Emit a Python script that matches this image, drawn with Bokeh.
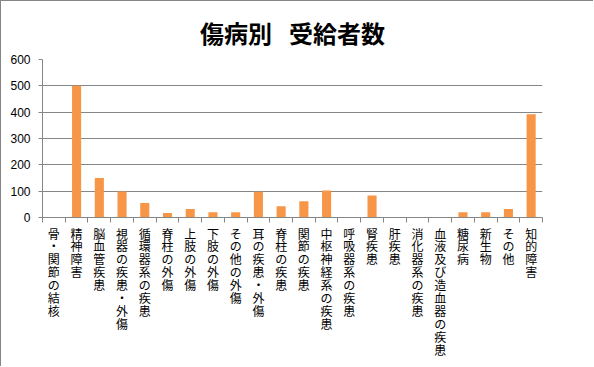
from bokeh.plotting import figure
from bokeh.models import ColumnDataSource, Range1d, LinearAxis, FixedTicker
from bokeh.embed import file_html
from bokeh.resources import INLINE

categories = ["骨・関節の結核", "精神障害", "脳血管疾患", "視器の疾患・外傷", "循環器系の疾患",
              "脊柱の外傷", "上肢の外傷", "下肢の外傷", "その他の外傷", "耳の疾患・外傷",
              "脊柱の疾患", "関節の疾患", "中枢神経系の疾患", "呼吸器系の疾患", "腎疾患",
              "肝疾患", "消化器系の疾患", "血液及び造血器の疾患", "糖尿病", "新生物",
              "その他", "知的障害"]
values = [0, 500, 150, 99, 55, 17, 32, 20, 20, 98, 43, 62, 103, 0, 84, 0, 0, 0, 20, 20, 32, 392]
y_ticks = [0, 100, 200, 300, 400, 500, 600]
title_text = "傷病別\u2002\u2009受給者数"

GRAY = "#868686"
JP = "Noto Sans CJK JP"

n = len(categories)
idx = list(range(n))
src = ColumnDataSource(dict(x=idx, val=values))

p = figure(width=593, height=366, output_backend="svg", toolbar_location=None,
           x_range=Range1d(-0.5, n - 0.5), y_range=Range1d(0, 600),
           x_axis_location=None, y_axis_location=None,
           min_border_left=41, min_border_right=52, min_border_top=58, min_border_bottom=150,
           title=title_text)
p.styles = {"border-left": "1px solid " + GRAY, "border-top": "1px solid " + GRAY}
p.outline_line_color = None
p.title.align = "center"
p.title.vertical_align = "top"
p.title.text_font = JP
p.title.text_font_size = "24px"
p.title.text_font_style = "bold"
p.title.text_color = "black"
p.title.text_line_height = 1.18
p.title.standoff = 16

p.vbar(x="x", top="val", width=0.4, source=src, fill_color="#F79646", line_color=None)

p.xgrid.visible = False
p.ygrid.ticker = FixedTicker(ticks=y_ticks)
p.ygrid.grid_line_color = GRAY
p.ygrid.grid_line_width = 1

yax = LinearAxis(ticker=FixedTicker(ticks=y_ticks))
yax.axis_line_color = GRAY
yax.major_tick_line_color = GRAY
yax.major_tick_in = 0
yax.major_tick_out = 4
yax.minor_tick_line_color = None
yax.major_label_text_font = "Liberation Sans"
yax.major_label_text_font_size = "12px"
yax.major_label_text_color = "black"
yax.major_label_standoff = 8
p.add_layout(yax, "left")

bounds = [i - 0.5 for i in range(n + 1)]
tax = LinearAxis(ticker=FixedTicker(ticks=bounds))
tax.axis_line_color = GRAY
tax.axis_line_width = 1
tax.major_tick_line_color = GRAY
tax.major_tick_line_width = 1
tax.major_tick_in = 0
tax.major_tick_out = 5
tax.minor_tick_line_color = None
tax.major_label_text_font_size = "1px"
tax.major_label_standoff = 0
tax.major_label_overrides = {b: " " for b in bounds}
p.add_layout(tax, "below")

cax = LinearAxis(ticker=FixedTicker(ticks=idx))
cax.axis_line_color = None
cax.major_tick_line_color = None
cax.minor_tick_line_color = None
cax.major_label_orientation = "horizontal"
cax.major_label_text_font = JP
cax.major_label_text_font_size = "12px"
cax.major_label_text_line_height = 0.76
cax.major_label_text_color = "black"
cax.major_label_standoff = -8
cax.major_label_overrides = {i: "\n".join(c) for i, c in zip(idx, categories)}
p.add_layout(cax, "below")

open("out.html", "w").write(file_html(p, INLINE))
